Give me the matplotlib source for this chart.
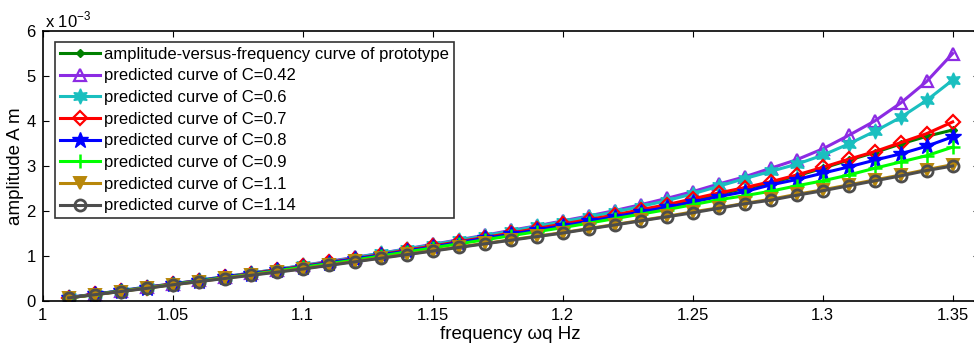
import numpy as np
import matplotlib
matplotlib.use("Agg")
import matplotlib.pyplot as plt

plt.rcParams['font.family'] = ['Liberation Sans', 'DejaVu Sans']

freq = [1.01, 1.02, 1.03, 1.04, 1.05, 1.06, 1.07, 1.08, 1.09, 1.10,
        1.11, 1.12, 1.13, 1.14, 1.15, 1.16, 1.17, 1.18, 1.19, 1.20,
        1.21, 1.22, 1.23, 1.24, 1.25, 1.26, 1.27, 1.28, 1.29, 1.30,
        1.31, 1.32, 1.33, 1.34, 1.35]

# amplitude values in units of 1e-3 m
prototype = [0.07, 0.15, 0.22, 0.30, 0.37, 0.45, 0.53, 0.61, 0.69, 0.77,
             0.85, 0.94, 1.03, 1.12, 1.21, 1.31, 1.40, 1.50, 1.60, 1.70,
             1.80, 1.90, 2.01, 2.12, 2.25, 2.37, 2.50, 2.62, 2.78, 2.95,
             3.13, 3.30, 3.49, 3.66, 3.80]
c042 = [0.08, 0.15, 0.23, 0.31, 0.38, 0.46, 0.54, 0.62, 0.70, 0.79,
        0.88, 0.97, 1.06, 1.16, 1.26, 1.36, 1.46, 1.57, 1.67, 1.78,
        1.89, 2.01, 2.14, 2.28, 2.43, 2.60, 2.76, 2.95, 3.14, 3.38,
        3.68, 4.00, 4.40, 4.88, 5.50]
c06 = [0.08, 0.15, 0.23, 0.31, 0.38, 0.46, 0.54, 0.62, 0.70, 0.79,
       0.87, 0.96, 1.06, 1.15, 1.25, 1.35, 1.45, 1.55, 1.66, 1.76,
       1.87, 1.98, 2.10, 2.23, 2.38, 2.55, 2.72, 2.88, 3.04, 3.24,
       3.49, 3.77, 4.08, 4.46, 4.91]
c07 = [0.07, 0.15, 0.22, 0.30, 0.38, 0.45, 0.53, 0.61, 0.69, 0.77,
       0.86, 0.94, 1.03, 1.13, 1.22, 1.32, 1.41, 1.51, 1.61, 1.71,
       1.81, 1.91, 2.03, 2.14, 2.27, 2.40, 2.52, 2.65, 2.80, 2.97,
       3.15, 3.32, 3.52, 3.72, 3.98]
c08 = [0.07, 0.15, 0.22, 0.30, 0.37, 0.45, 0.53, 0.60, 0.68, 0.76,
       0.85, 0.93, 1.02, 1.11, 1.20, 1.30, 1.39, 1.48, 1.58, 1.67,
       1.77, 1.87, 1.98, 2.08, 2.20, 2.32, 2.43, 2.58, 2.70, 2.84,
       2.98, 3.13, 3.27, 3.44, 3.65]
c09 = [0.07, 0.14, 0.22, 0.29, 0.37, 0.44, 0.52, 0.59, 0.67, 0.75,
       0.83, 0.91, 1.00, 1.09, 1.18, 1.27, 1.36, 1.45, 1.54, 1.63,
       1.73, 1.83, 1.93, 2.03, 2.14, 2.25, 2.34, 2.44, 2.56, 2.67,
       2.80, 2.95, 3.09, 3.23, 3.42]
c11 = [0.07, 0.14, 0.21, 0.29, 0.36, 0.43, 0.51, 0.58, 0.65, 0.72,
       0.80, 0.88, 0.96, 1.04, 1.12, 1.20, 1.28, 1.36, 1.44, 1.52,
       1.61, 1.70, 1.79, 1.88, 1.98, 2.07, 2.17, 2.26, 2.37, 2.47,
       2.58, 2.69, 2.80, 2.92, 3.03]
c114 = [0.07, 0.14, 0.21, 0.28, 0.36, 0.43, 0.50, 0.57, 0.64, 0.71,
        0.79, 0.87, 0.95, 1.03, 1.11, 1.19, 1.27, 1.35, 1.43, 1.51,
        1.60, 1.69, 1.78, 1.87, 1.96, 2.06, 2.16, 2.24, 2.35, 2.45,
        2.56, 2.67, 2.78, 2.90, 3.00]

labels = ["amplitude-versus-frequency curve of prototype",
          "predicted curve of C=0.42",
          "predicted curve of C=0.6",
          "predicted curve of C=0.7",
          "predicted curve of C=0.8",
          "predicted curve of C=0.9",
          "predicted curve of C=1.1",
          "predicted curve of C=1.14"]

xticks = [1, 1.05, 1.1, 1.15, 1.2, 1.25, 1.3, 1.35]
xticklabels = ["1", "1.05", "1.1", "1.15", "1.2", "1.25", "1.3", "1.35"]
yticks = [0, 1, 2, 3, 4, 5, 6]

series = [prototype, c042, c06, c07, c08, c09, c11, c114]
styles = [
    dict(color=(0, 0.5, 0), marker='D', ms=4, mfc=(0, 0.5, 0), mec=(0, 0.5, 0)),
    dict(color=(0.55, 0.17, 0.89), marker='^', ms=9, mfc='none', mec=(0.55, 0.17, 0.89), mew=1.6),
    dict(color=(0.1, 0.75, 0.75), marker=(6, 1, 0), ms=11, mfc=(0.1, 0.75, 0.75), mec=(0.1, 0.75, 0.75)),
    dict(color=(1, 0, 0), marker='D', ms=7, mfc='none', mec=(1, 0, 0), mew=1.6),
    dict(color=(0, 0, 1), marker='*', ms=12, mfc=(0, 0, 1), mec=(0, 0, 1)),
    dict(color=(0, 1, 0), marker='+', ms=10, mfc=(0, 1, 0), mec=(0, 1, 0), mew=1.8),
    dict(color=(0.72, 0.53, 0.04), marker='v', ms=9, mfc=(0.72, 0.53, 0.04), mec=(0.72, 0.53, 0.04), mew=1.4),
    dict(color=(0.3, 0.3, 0.3), marker='o', ms=8, mfc='none', mec=(0.3, 0.3, 0.3), mew=2.0),
]

fig = plt.figure(figsize=(9.74, 3.45), dpi=100)
ax = fig.add_axes([42.7 / 974, 44 / 345, 936 / 974, 270 / 345])

for vals, st, lab in zip(series, styles, labels):
    y = np.array(vals) * 1e-3
    ax.plot(freq, y, lw=2.2, label=lab, **st)

ax.set_xlim(1, 1.36)
ax.set_ylim(0, 6e-3)
ax.set_xticks(xticks)
ax.set_xticklabels(xticklabels)
ax.set_yticks([v * 1e-3 for v in yticks])
ax.set_yticklabels([str(v) for v in yticks])
ax.tick_params(direction='in', length=4, width=0.8, top=True, right=True,
               labelsize=12, pad=5)
for s in ax.spines.values():
    s.set_linewidth(1.2)

ax.set_xlabel("frequency \u03c9q Hz", fontsize=13.5, labelpad=2)
ax.set_ylabel("amplitude A m", fontsize=13.5, labelpad=2)
fig.text(45 / 974, 1 - 20 / 345, r"x 10$^{\mathregular{-3}}$", fontsize=12,
         ha='left', va='center')

leg = ax.legend(loc='upper left', bbox_to_anchor=(0.013, 0.96), fontsize=12,
                frameon=True, fancybox=False, edgecolor='black',
                borderpad=0.3, labelspacing=0.4, handlelength=2.4,
                handletextpad=0.25, borderaxespad=0)
leg.get_frame().set_linewidth(1.2)

fig.savefig("out.png", dpi=100)
